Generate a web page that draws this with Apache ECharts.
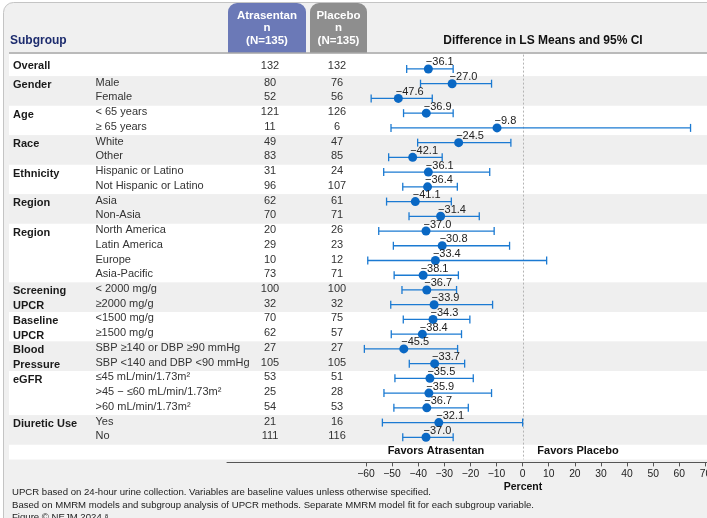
<!DOCTYPE html>
<html>
<head>
<meta charset="utf-8">
<script src="https://cdn.jsdelivr.net/npm/echarts@6/dist/echarts.min.js"></script>
<style>
  html, body { margin: 0; padding: 0; background: #ffffff; }
  #chart { width: 707px; height: 518px; }
</style>
</head>
<body>
<div id="chart"></div>
<script>
// Subgroup table columns (one entry per row)
const groupLabels = ['Overall', 'Gender', '', 'Age', '', 'Race', '', 'Ethnicity', '', 'Region', '',
  'Region', '', '', '', 'Screening', 'UPCR', 'Baseline', 'UPCR', 'Blood', 'Pressure', 'eGFR', '', '',
  'Diuretic Use', ''];
const subLabels = ['', 'Male', 'Female', '< 65 years', '\u2265 65 years', 'White', 'Other',
  'Hispanic or Latino', 'Not Hispanic or Latino', 'Asia', 'Non-Asia', 'North America', 'Latin America',
  'Europe', 'Asia-Pacific', '< 2000 mg/g', '\u22652000 mg/g', '<1500 mg/g', '\u22651500 mg/g',
  'SBP \u2265140 or DBP \u226590 mmHg', 'SBP <140 and DBP <90 mmHg', '\u226445 mL/min/1.73m\u00b2',
  '>45 \u2212 \u226460 mL/min/1.73m\u00b2', '>60 mL/min/1.73m\u00b2', 'Yes', 'No'];
const nAtrasentan = [132, 80, 52, 121, 11, 49, 83, 31, 96, 62, 70, 20, 29, 10, 73, 100, 32, 70, 62, 27, 105, 53, 25, 54, 21, 111];
const nPlacebo = [132, 76, 56, 126, 6, 47, 85, 24, 107, 61, 71, 26, 23, 12, 71, 100, 32, 75, 57, 27, 105, 51, 28, 53, 16, 116];

// Difference in LS means (%) with 95% CI
const estimate = [-36.1, -27.0, -47.6, -36.9, -9.8, -24.5, -42.1, -36.1, -36.4, -41.1, -31.4, -37.0, -30.8,
  -33.4, -38.1, -36.7, -33.9, -34.3, -38.4, -45.5, -33.7, -35.5, -35.9, -36.7, -32.1, -37.0];
const ciLower = [-44.4, -39.1, -58.0, -45.6, -50.4, -40.2, -51.3, -53.2, -45.9, -52.1, -43.5, -55.1, -49.5,
  -59.3, -49.2, -46.2, -50.5, -45.7, -50.3, -60.6, -43.4, -48.9, -53.1, -49.3, -53.7, -45.9];
const ciUpper = [-26.6, -11.9, -34.6, -26.6, 64.3, -4.5, -30.8, -12.6, -25.0, -27.3, -16.6, -10.9, -5.0,
  9.2, -24.6, -25.3, -11.5, -20.2, -23.4, -24.9, -22.2, -18.9, -11.9, -20.8, 0.0, -26.6];

// Row ranges of each subgroup block (last block is the "Favors" row)
const groupBands = [[0, 0], [1, 2], [3, 4], [5, 6], [7, 8], [9, 10], [11, 14], [15, 16], [17, 18],
  [19, 20], [21, 23], [24, 25], [26, 26]];
const favorLabels = ['Favors Atrasentan', 'Favors Placebo'];
const tickValues = [-60, -50, -40, -30, -20, -10, 0, 10, 20, 30, 40, 50, 60, 70];
const footnotes = [
  'UPCR based on 24-hour urine collection. Variables are baseline values unless otherwise specified.',
  'Based on MMRM models and subgroup analysis of UPCR methods. Separate MMRM model fit for each subgroup variable.',
  'Figure \u00a9 NEJM 2024 \u2078'
];

const FONT = '"Liberation Sans", Arial, Helvetica, sans-serif';
const ROWS = 27;
const rowCats = Array.from({ length: ROWS }, (_, i) => String(i));
const fmtMinus = v => (v < 0 ? '\u2212' + Math.abs(v) : String(v));
const fmtEst = v => (v < 0 ? '\u2212' : '') + Math.abs(v).toFixed(1);

const GRID_TOP = 61.6;
const GRID_H = 397.8;

const chart = echarts.init(document.getElementById('chart'), null, { renderer: 'canvas' });

const option = {
  animation: false,
  backgroundColor: '#ffffff',
  textStyle: { fontFamily: FONT },
  grid: [
    { left: 227, right: 0, top: GRID_TOP, height: GRID_H, containLabel: false, outerBoundsMode: 'none' },
    { left: 0, right: 0, top: GRID_TOP, height: GRID_H, containLabel: false, outerBoundsMode: 'none' }
  ],
  xAxis: [
    {
      type: 'value', gridIndex: 0, min: -113.2, max: 70.6, offset: 3,
      axisLine: { show: true, lineStyle: { color: '#555', width: 1 } },
      axisTick: { show: true, customValues: tickValues, length: 4, lineStyle: { color: '#555' } },
      axisLabel: { customValues: tickValues, formatter: fmtMinus, fontSize: 10.3, color: '#222', margin: 7, fontFamily: FONT },
      splitLine: { show: false }
    },
    { type: 'value', gridIndex: 1, min: 0, max: 707, show: false }
  ],
  yAxis: [
    { type: 'category', gridIndex: 0, data: rowCats, inverse: true, show: false },
    { type: 'category', gridIndex: 1, data: rowCats, inverse: true, show: false }
  ],
  graphic: [
    // rounded panel
    { type: 'rect', z: -10, shape: { x: 3.5, y: 2.5, width: 760, height: 530, r: 10 },
      style: { fill: '#f0f0f0', stroke: '#c4c4c4', lineWidth: 1 } },
    // column header tabs
    { type: 'rect', z: -5, shape: { x: 228, y: 3, width: 78, height: 50, r: [9, 9, 0, 0] },
      style: { fill: '#6b79b7' } },
    { type: 'rect', z: -5, shape: { x: 310, y: 3, width: 57, height: 50, r: [9, 9, 0, 0] },
      style: { fill: '#8e8e8e' } },
    { type: 'text', z: 5, style: { text: 'Atrasentan\nn\n(N=135)', x: 267, y: 9, align: 'center', verticalAlign: 'top',
      fill: '#ffffff', font: 'bold 11.5px ' + FONT, lineHeight: 12.8 } },
    { type: 'text', z: 5, style: { text: 'Placebo\nn\n(N=135)', x: 338.5, y: 9, align: 'center', verticalAlign: 'top',
      fill: '#ffffff', font: 'bold 11.5px ' + FONT, lineHeight: 12.8 } },
    { type: 'text', z: 5, style: { text: 'Subgroup', x: 10, y: 40.5, verticalAlign: 'middle',
      fill: '#1d2c6e', font: 'bold 12px ' + FONT } },
    { type: 'text', z: 5, style: { text: 'Difference in LS Means and 95% CI', x: 543, y: 40.5, align: 'center',
      verticalAlign: 'middle', fill: '#111', font: 'bold 12px ' + FONT } },
    // header rule
    { type: 'line', z: 4, shape: { x1: 9, y1: 53, x2: 707, y2: 53 }, style: { stroke: '#a8a8a8', lineWidth: 1.5 } },
    // axis title
    { type: 'text', z: 5, style: { text: 'Percent', x: 523, y: 487, align: 'center', verticalAlign: 'middle',
      fill: '#111', font: 'bold 10.5px ' + FONT } },
    // notes
    ...footnotes.map((t, k) => ({ type: 'text', z: 5, style: { text: t, x: 12, y: 492.5 + k * 12.5,
      verticalAlign: 'middle', fill: '#222', font: '9.6px ' + FONT } }))
  ],
  series: [
    // alternating subgroup bands
    {
      type: 'custom', xAxisIndex: 1, yAxisIndex: 1, z: 0, silent: true,
      data: groupBands.map((b, k) => [b[0], b[1], k % 2]),
      renderItem(params, api) {
        const s = api.value(0), e = api.value(1), shade = api.value(2);
        const h = api.size([0, 1])[1];
        let y0 = api.coord([0, s])[1] - h / 2;
        const y1 = api.coord([0, e])[1] + h / 2;
        if (s === 0) y0 = 54;
        return { type: 'rect', shape: { x: 9, y: y0, width: 698, height: y1 - y0 },
          style: { fill: shade ? '#efefef' : '#ffffff' } };
      }
    },
    // subgroup table text
    {
      type: 'custom', xAxisIndex: 1, yAxisIndex: 1, z: 3, silent: true,
      data: subLabels.map((_, i) => [i]),
      renderItem(params, api) {
        const i = api.value(0);
        const y = api.coord([0, i])[1];
        const kids = [];
        const gOff = i === 0 ? -3 : 1.5;
        const sOff = -1;
        if (groupLabels[i]) kids.push({ type: 'text', style: { text: groupLabels[i], x: 13, y: y + gOff,
          verticalAlign: 'middle', fill: '#1a1a1a', font: 'bold 11px ' + FONT } });
        if (subLabels[i]) kids.push({ type: 'text', style: { text: subLabels[i], x: 95.5, y: y + sOff,
          verticalAlign: 'middle', fill: '#333', font: '11px ' + FONT } });
        kids.push({ type: 'text', style: { text: String(nAtrasentan[i]), x: 270, y: y + (i === 0 ? -3 : sOff),
          align: 'center', verticalAlign: 'middle', fill: '#333', font: '11px ' + FONT } });
        kids.push({ type: 'text', style: { text: String(nPlacebo[i]), x: 337, y: y + (i === 0 ? -3 : sOff),
          align: 'center', verticalAlign: 'middle', fill: '#333', font: '11px ' + FONT } });
        return { type: 'group', children: kids };
      }
    },
    // no-effect reference line
    {
      type: 'custom', xAxisIndex: 0, yAxisIndex: 0, z: 2, silent: true,
      data: [[0]],
      renderItem(params, api) {
        const x = Math.round(api.coord([api.value(0), 0])[0]) + 0.5;
        const cs = params.coordSys;
        return { type: 'line', shape: { x1: x, y1: cs.y - 7, x2: x, y2: cs.y + cs.height },
          style: { stroke: '#b4b4b4', lineWidth: 1, lineDash: [2, 2] } };
      }
    },
    // favours labels
    {
      type: 'custom', xAxisIndex: 0, yAxisIndex: 0, z: 3, silent: true,
      data: [[-33.2, 26, 0], [21.2, 26, 1]],
      renderItem(params, api) {
        const p = api.coord([api.value(0), api.value(1)]);
        return { type: 'text', style: { text: favorLabels[api.value(2)], x: p[0], y: p[1] - 1,
          align: 'center', verticalAlign: 'middle', fill: '#111', font: 'bold 11px ' + FONT } };
      }
    },
    // confidence intervals
    {
      type: 'custom', xAxisIndex: 0, yAxisIndex: 0, z: 4, silent: true,
      data: estimate.map((_, i) => [i, ciLower[i], ciUpper[i]]),
      renderItem(params, api) {
        const r = api.value(0);
        const a = api.coord([api.value(1), r]);
        const b = api.coord([api.value(2), r]);
        const st = { stroke: '#1b7ad2', lineWidth: 1.3 };
        return { type: 'group', children: [
          { type: 'line', shape: { x1: a[0], y1: a[1], x2: b[0], y2: b[1] }, style: st },
          { type: 'line', shape: { x1: a[0], y1: a[1] - 4, x2: a[0], y2: a[1] + 4 }, style: st },
          { type: 'line', shape: { x1: b[0], y1: b[1] - 4, x2: b[0], y2: b[1] + 4 }, style: st }
        ] };
      }
    },
    // point estimates
    {
      type: 'scatter', xAxisIndex: 0, yAxisIndex: 0, z: 5, silent: true,
      symbol: 'circle', symbolSize: 9,
      itemStyle: { color: '#0a68c4', opacity: 1 },
      data: estimate.map((v, i) => [v, i]),
      label: {
        show: true, position: [2, -2], align: 'left', verticalAlign: 'middle',
        formatter: p => fmtEst(p.value[0]), fontSize: 11, color: '#222', fontFamily: FONT
      }
    }
  ]
};

chart.setOption(option);
</script>
</body>
</html>
